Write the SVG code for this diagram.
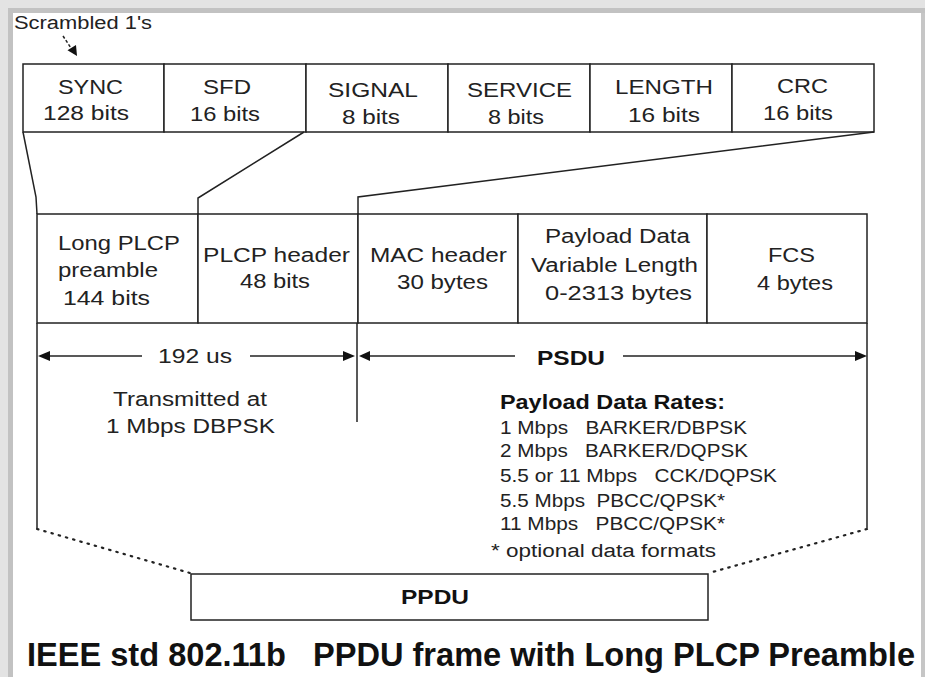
<svg xmlns="http://www.w3.org/2000/svg" width="925" height="677" viewBox="0 0 925 677">
<style>
.box{fill:#fff;stroke:#222;stroke-width:1.5}
.ln{fill:none;stroke:#222;stroke-width:1.5}
.dot{fill:none;stroke:#222;stroke-width:2.2;stroke-dasharray:1.5,6;stroke-linecap:round}
.t{font-family:"Liberation Sans",Arial,sans-serif;font-size:20px;fill:#222;white-space:pre}
.s{font-family:"Liberation Sans",Arial,sans-serif;font-size:18px;fill:#222;white-space:pre}
.b{font-family:"Liberation Sans",Arial,sans-serif;font-weight:bold;font-size:20px;fill:#111;white-space:pre}
.title{font-family:"Liberation Sans",Arial,sans-serif;font-weight:bold;font-size:33px;fill:#111;white-space:pre}
.ah{fill:#111}
</style>
<rect width="925" height="677" fill="#fff"/>
<g id="frame">
<rect x="0" y="0" width="925" height="8" fill="#e3e3e3"/>
<rect x="0" y="8" width="925" height="5" fill="#c2c2c2"/>
<rect x="0" y="0" width="8" height="677" fill="#e3e3e3"/>
<rect x="8" y="8" width="5" height="669" fill="#c2c2c2"/>
<rect x="921" y="13" width="4" height="664" fill="#c6c6c6"/>
</g>
<g id="scrambled">
<text class="s" x="14" y="29" textLength="138" lengthAdjust="spacingAndGlyphs">Scrambled 1's</text>
</g>
<g id="top-row">
<g id="sync"><rect class="box" x="23" y="64" width="141" height="68"/>
<text class="t" x="58" y="94" textLength="65" lengthAdjust="spacingAndGlyphs">SYNC</text>
<text class="t" x="43" y="120" textLength="86" lengthAdjust="spacingAndGlyphs">128 bits</text></g>
<g id="sfd"><rect class="box" x="164" y="64" width="142" height="68"/>
<text class="t" x="203" y="94" textLength="48" lengthAdjust="spacingAndGlyphs">SFD</text>
<text class="t" x="190" y="121" textLength="70" lengthAdjust="spacingAndGlyphs">16 bits</text></g>
<g id="signal"><rect class="box" x="306" y="64" width="142" height="68"/>
<text class="t" x="328" y="97" textLength="90" lengthAdjust="spacingAndGlyphs">SIGNAL</text>
<text class="t" x="342" y="124" textLength="58" lengthAdjust="spacingAndGlyphs">8 bits</text></g>
<g id="service"><rect class="box" x="448" y="64" width="142" height="68"/>
<text class="t" x="467" y="97" textLength="105" lengthAdjust="spacingAndGlyphs">SERVICE</text>
<text class="t" x="488" y="124" textLength="56" lengthAdjust="spacingAndGlyphs">8 bits</text></g>
<g id="length"><rect class="box" x="590" y="64" width="142" height="68"/>
<text class="t" x="615" y="94" textLength="98" lengthAdjust="spacingAndGlyphs">LENGTH</text>
<text class="t" x="628" y="122" textLength="72" lengthAdjust="spacingAndGlyphs">16 bits</text></g>
<g id="crc"><rect class="box" x="732" y="64" width="142" height="68"/>
<text class="t" x="777" y="93" textLength="51" lengthAdjust="spacingAndGlyphs">CRC</text>
<text class="t" x="763" y="120" textLength="70" lengthAdjust="spacingAndGlyphs">16 bits</text></g>
</g>
<g id="mid-row">
<g id="preamble"><rect class="box" x="37" y="214" width="161" height="109"/>
<text class="t" x="58" y="250" textLength="122" lengthAdjust="spacingAndGlyphs">Long PLCP</text>
<text class="t" x="58" y="277" textLength="100" lengthAdjust="spacingAndGlyphs">preamble</text>
<text class="t" x="63" y="305" textLength="87" lengthAdjust="spacingAndGlyphs">144 bits</text></g>
<g id="plcp-header"><rect class="box" x="198" y="214" width="160" height="109"/>
<text class="t" x="203" y="262" textLength="147" lengthAdjust="spacingAndGlyphs">PLCP header</text>
<text class="t" x="240" y="288" textLength="70" lengthAdjust="spacingAndGlyphs">48 bits</text></g>
<g id="mac-header"><rect class="box" x="358" y="214" width="160" height="109"/>
<text class="t" x="370" y="262" textLength="137" lengthAdjust="spacingAndGlyphs">MAC header</text>
<text class="t" x="397" y="289" textLength="91" lengthAdjust="spacingAndGlyphs">30 bytes</text></g>
<g id="payload"><rect class="box" x="518" y="214" width="189" height="109"/>
<text class="t" x="545" y="243" textLength="145" lengthAdjust="spacingAndGlyphs">Payload Data</text>
<text class="t" x="531" y="272" textLength="167" lengthAdjust="spacingAndGlyphs">Variable Length</text>
<text class="t" x="545" y="300" textLength="147" lengthAdjust="spacingAndGlyphs">0-2313 bytes</text></g>
<g id="fcs"><rect class="box" x="707" y="214" width="160" height="109"/>
<text class="t" x="768" y="262" textLength="47" lengthAdjust="spacingAndGlyphs">FCS</text>
<text class="t" x="757" y="290" textLength="76" lengthAdjust="spacingAndGlyphs">4 bytes</text></g>
</g>
<g id="ppdu"><rect class="box" x="191" y="574" width="517" height="46"/>
<text class="b" x="401" y="604" textLength="68" lengthAdjust="spacingAndGlyphs">PPDU</text></g>
<g id="connectors">
<line class="ln" x1="63" y1="36" x2="71" y2="48" stroke-dasharray="3,2"/>
<polygon class="ah" points="77,56 67.5,50.2 76,44.9"/>
<polyline class="ln" points="23,132 36,197 37,214"/>
<polyline class="ln" points="304,132 198,198 198,214"/>
<polyline class="ln" points="874,132 358,197 358,214"/>
<line class="ln" x1="37" y1="323" x2="37" y2="528"/>
<line class="ln" x1="867" y1="323" x2="867" y2="528"/>
<line class="ln" x1="357" y1="323" x2="357" y2="422"/>
<line class="dot" x1="37" y1="529" x2="190" y2="573"/>
<line class="dot" x1="867" y1="529" x2="709" y2="573"/>
<line class="ln" x1="44" y1="356" x2="142" y2="356"/>
<line class="ln" x1="250" y1="356" x2="347" y2="356"/>
<line class="ln" x1="366" y1="356" x2="515" y2="356"/>
<line class="ln" x1="623" y1="356" x2="860" y2="356"/>
<polygon class="ah" points="38,356 50,351 50,361"/>
<polygon class="ah" points="355,356 343,351 343,361"/>
<polygon class="ah" points="359,356 370,351 370,361"/>
<polygon class="ah" points="867,356 855,351 855,361"/>
</g>
<g id="labels">
<text class="t" x="158" y="363" textLength="74" lengthAdjust="spacingAndGlyphs">192 us</text>
<text class="b" x="537" y="365" textLength="68" lengthAdjust="spacingAndGlyphs">PSDU</text>
<text class="t" x="113" y="406" textLength="154" lengthAdjust="spacingAndGlyphs">Transmitted at</text>
<text class="t" x="106" y="433" textLength="169" lengthAdjust="spacingAndGlyphs">1 Mbps DBPSK</text>
<text class="b" x="500" y="409" textLength="225" lengthAdjust="spacingAndGlyphs">Payload Data Rates:</text>
<text class="s" x="500" y="434" textLength="247" lengthAdjust="spacingAndGlyphs">1 Mbps   BARKER/DBPSK</text>
<text class="s" x="500" y="457" textLength="248" lengthAdjust="spacingAndGlyphs">2 Mbps   BARKER/DQPSK</text>
<text class="s" x="500" y="482" textLength="277" lengthAdjust="spacingAndGlyphs">5.5 or 11 Mbps   CCK/DQPSK</text>
<text class="s" x="500" y="507" textLength="225" lengthAdjust="spacingAndGlyphs">5.5 Mbps  PBCC/QPSK*</text>
<text class="s" x="500" y="530" textLength="225" lengthAdjust="spacingAndGlyphs">11 Mbps   PBCC/QPSK*</text>
<text class="s" x="491" y="557" textLength="225" lengthAdjust="spacingAndGlyphs">* optional data formats</text>
<text class="title" x="27" y="666" textLength="888" lengthAdjust="spacingAndGlyphs">IEEE std 802.11b   PPDU frame with Long PLCP Preamble</text>
</g>
</svg>
